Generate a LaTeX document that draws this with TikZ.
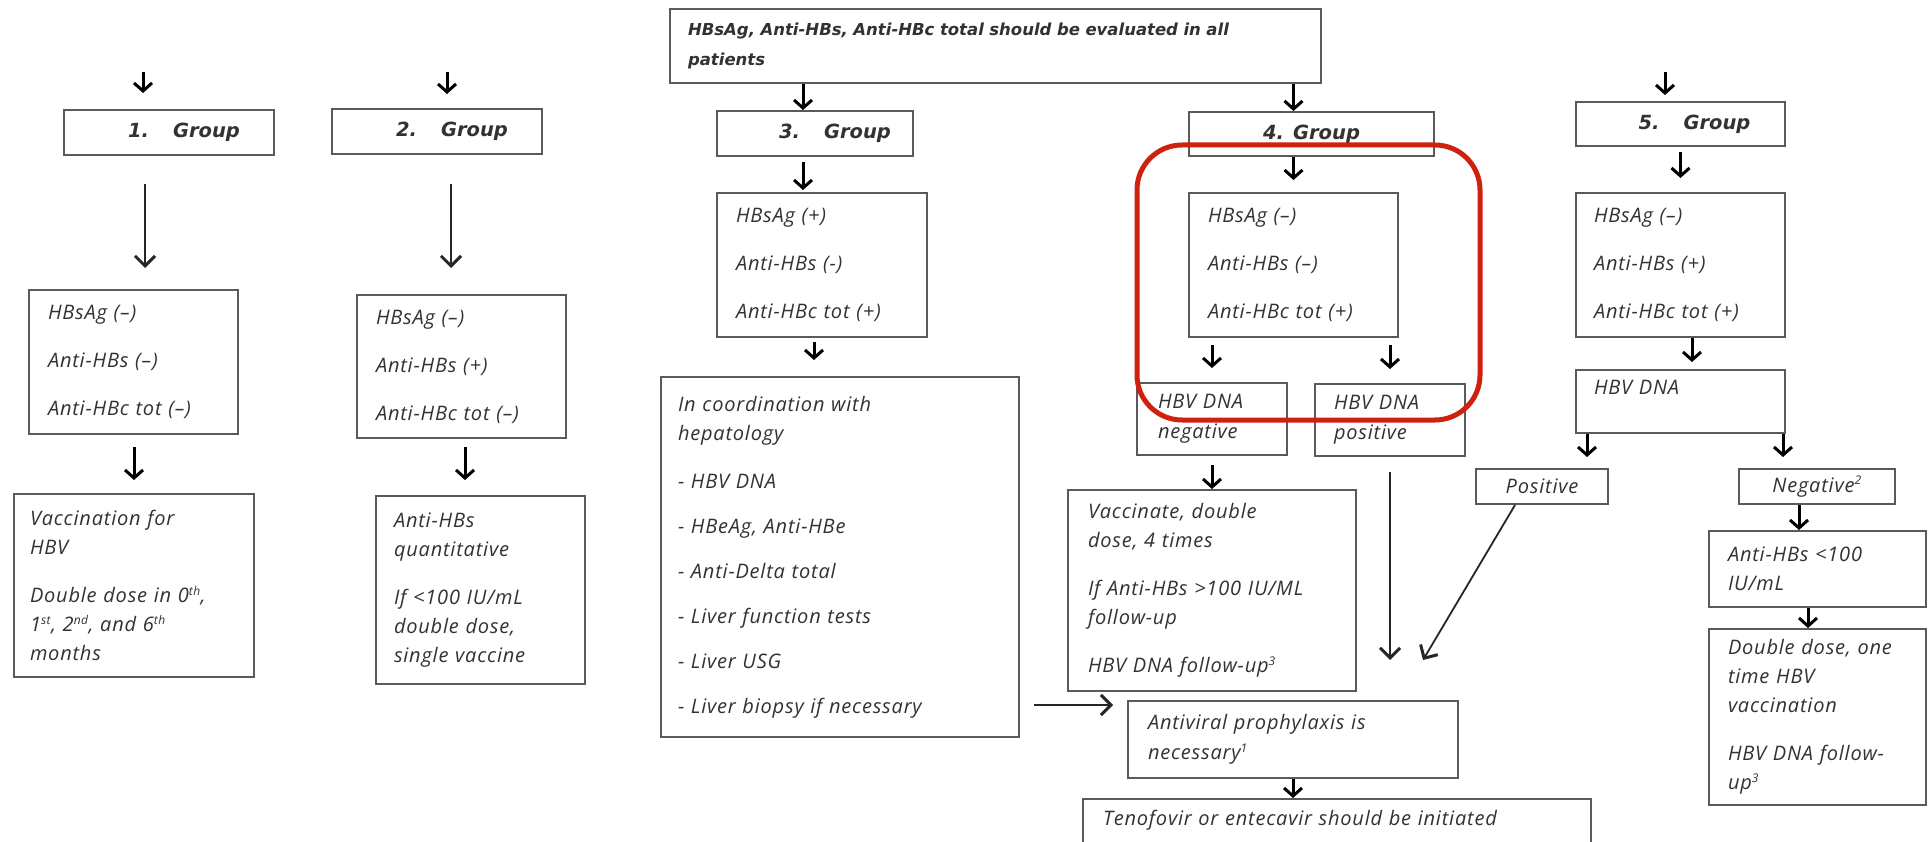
\documentclass[tikz,border=0pt]{standalone}
\usepackage{fontspec}
\setmainfont{Open Sans}
\newfontfamily\bodyfont{Open Sans}[LetterSpace=4]
\newfontfamily\grpfont{DejaVu Sans}
\usetikzlibrary{arrows.meta}
\definecolor{boxgray}{RGB}{90,90,90}
\definecolor{txtgray}{RGB}{50,50,50}
\definecolor{markred}{RGB}{208,32,14}
\newcommand{\supx}[1]{\textsuperscript{\fontsize{12}{12}\selectfont #1}}

\begin{document}
\begin{tikzpicture}
	[x=1pt, y=-1pt,
	box_style/.style={draw=boxgray, line width=2pt, anchor=north west, align=left, inner xsep=19pt, inner ysep=0pt, text=txtgray, font=\bodyfont\itshape\fontsize{20}{29}\selectfont},
	group_style/.style={draw=boxgray, line width=2pt, anchor=north west, inner sep=0pt, text=txtgray, font=\grpfont\bfseries\itshape\fontsize{19.5}{24}\selectfont},
	arrow_style/.style={draw=black, line width=3pt, -{Straight Barb[length=8pt, width=18pt]}},
	long_arrow_style/.style={draw=black!85, line width=1.8pt, -{Straight Barb[length=10pt, width=20pt, line width=3pt]}},
	mark_style/.style={draw=markred, line width=5pt, rounded corners=45pt}]
	\fill[white] (0,0) rectangle (1931,842);
	\useasboundingbox (0,0) rectangle (1931,842);
	\clip (0,0) rectangle (1931,842);

	\node[box_style, inner xsep=18pt, text width=615pt, minimum height=74pt, font=\grpfont\bfseries\itshape\fontsize{16.5}{30}\selectfont] (top) at (669,8) {HBsAg, Anti-HBs, Anti-HBc total should be evaluated in all\\patients};

	\node[group_style, minimum width=210pt, minimum height=45pt] (g1) at (63,109) {\hspace*{30pt}1.\hspace{24pt}Group};
	\node[group_style, minimum width=210pt, minimum height=45pt] (g2) at (331,108) {\hspace*{30pt}2.\hspace{24pt}Group};
	\node[group_style, minimum width=196pt, minimum height=45pt] (g3) at (716,110) {\hspace*{40pt}3.\hspace{24pt}Group};
	\node[group_style, minimum width=245pt, minimum height=44pt] (g4) at (1188,111) {4. Group};
	\node[group_style, minimum width=209pt, minimum height=44pt] (g5) at (1575,101) {\hspace*{28pt}5.\hspace{24pt}Group};

	\node[box_style, text width=171pt, minimum height=144pt] (t1) at (28,289) {HBsAg (\textendash)\\[19pt]Anti-HBs (\textendash)\\[19pt]Anti-HBc tot (\textendash)};
	\node[box_style, inner xsep=16pt, text width=208pt, minimum height=183pt] (v1) at (13,493) {Vaccination for\\HBV\\[19pt]Double dose in 0\supx{th},\\1\supx{st}, 2\supx{nd}, and 6\supx{th}\\months};

	\node[box_style, text width=171pt, minimum height=143pt] (t2) at (356,294) {HBsAg (\textendash)\\[19pt]Anti-HBs (+)\\[19pt]Anti-HBc tot (\textendash)};
	\node[box_style, inner xsep=18pt, text width=173pt, minimum height=188pt] (q2) at (375,495) {Anti-HBs\\quantitative\\[19pt]If <100 IU/mL\\double dose,\\single vaccine};

	\node[box_style, text width=172pt, minimum height=144pt] (t3) at (716,192) {HBsAg (+)\\[19pt]Anti-HBs (-)\\[19pt]Anti-HBc tot (+)};
	\node[box_style, inner xsep=17pt, text width=324pt, minimum height=360pt] (h3) at (660,376) {In coordination with\\hepatology\\[19pt]- HBV DNA\\[16pt]- HBeAg, Anti-HBe\\[16pt]- Anti-Delta total\\[16pt]- Liver function tests\\[16pt]- Liver USG\\[16pt]- Liver biopsy if necessary};

	\node[box_style, text width=171pt, minimum height=144pt] (t4) at (1188,192) {HBsAg (\textendash)\\[19pt]Anti-HBs (\textendash)\\[19pt]Anti-HBc tot (+)};
	\node[box_style, inner xsep=21pt, text width=108pt, minimum height=72pt, font=\bodyfont\itshape\fontsize{20}{30}\selectfont] (dn) at (1136,382) {HBV DNA\\negative};
	\node[box_style, text width=112pt, minimum height=72pt, font=\bodyfont\itshape\fontsize{20}{30}\selectfont] (dp) at (1314,383) {HBV DNA\\positive};
	\node[box_style, inner xsep=20pt, text width=248pt, minimum height=201pt] (vac) at (1067,489) {Vaccinate, double\\dose, 4 times\\[19pt]If Anti-HBs >100 IU/ML\\follow-up\\[19pt]HBV DNA follow-up\supx{3}};
	\node[box_style, inner xsep=20pt, text width=290pt, minimum height=77pt, font=\bodyfont\itshape\fontsize{20}{30}\selectfont] (av) at (1127,700) {Antiviral prophylaxis is\\necessary\supx{1}};
	\node[box_style, inner xsep=20pt, inner ysep=11pt, text width=468pt] (tf) at (1082,798) {Tenofovir or entecavir should be initiated\\[20pt]\strut};

	\node[box_style, inner xsep=18pt, text width=173pt, minimum height=144pt] (t5) at (1575,192) {HBsAg (\textendash)\\[19pt]Anti-HBs (+)\\[19pt]Anti-HBc tot (+)};
	\node[box_style, inner xsep=18pt, text width=173pt, minimum height=63pt] (d5) at (1575,369) {HBV DNA\\\mbox{}};
	\node[box_style, align=center, inner xsep=0pt, text width=132pt, minimum height=35pt] (pos5) at (1475,468) {Positive};
	\node[box_style, align=center, inner xsep=0pt, text width=156pt, minimum height=35pt] (neg5) at (1738,468) {Negative\supx{2}};
	\node[box_style, text width=179pt, minimum height=76pt] (anti) at (1708,530) {Anti-HBs <100\\IU/mL};
	\node[box_style, text width=179pt, minimum height=176pt] (dd) at (1708,628) {Double dose, one\\time HBV\\vaccination\\[19pt]HBV DNA follow-\\up\supx{3}};

	\coordinate (in1) at (143,72);
	\coordinate (in2) at (447,72);
	\coordinate (in5) at (1665,72);
	\coordinate (c1) at (145,0);
	\coordinate (c2) at (451,0);
	\coordinate (c2b) at (465,0);
	\coordinate (c3) at (803,0);
	\coordinate (c3b) at (814,0);
	\coordinate (c5b) at (1692,0);
	\coordinate (c5l) at (1587,0);
	\coordinate (c5r) at (1783,0);
	\coordinate (c5p) at (1515,0);
	\coordinate (c5n) at (1799,0);
	\coordinate (c5m) at (1808,0);
	\coordinate (avin) at (0,705);
	\coordinate (dg) at (1423,660);

	\draw[arrow_style, shorten >=16pt] (in1) -- (in1 |- g1.north);
	\draw[arrow_style, shorten >=14pt] (in2) -- (in2 |- g2.north);
	\draw[arrow_style, shorten >=6pt] (in5) -- (in5 |- g5.north);
	\draw[arrow_style] (c3 |- top.south) -- (c3 |- g3.north);
	\draw[arrow_style] (t4.north |- top.south) -- (t4.north |- g4.north);

	\draw[long_arrow_style, shorten <=28pt, shorten >=21pt] (c1 |- g1.south) -- (c1 |- t1.north);
	\draw[long_arrow_style, shorten <=29pt, shorten >=26pt] (c2 |- g2.south) -- (c2 |- t2.north);
	\draw[arrow_style, shorten <=12pt, shorten >=13pt] (t1.south -| v1.north) -- (v1.north);
	\draw[arrow_style, shorten <=8pt, shorten >=15pt] (c2b |- t2.south) -- (c2b |- q2.north);

	\draw[arrow_style, shorten <=5pt, shorten >=2pt] (c3 |- g3.south) -- (c3 |- t3.north);
	\draw[arrow_style, shorten <=4pt, shorten >=16pt] (c3b |- t3.south) -- (c3b |- h3.north);
	\draw[long_arrow_style, shorten <=14pt, shorten >=14pt] (h3.east |- avin) -- (av.west |- avin);

	\draw[arrow_style, shorten >=12pt] (t4.north |- g4.south) -- (t4.north);
	\draw[arrow_style, shorten <=7pt, shorten >=14pt] (t4.south -| dn.north) -- (dn.north);
	\draw[arrow_style, shorten <=7pt, shorten >=14pt] (t4.south -| dp.north) -- (dp.north);
	\draw[arrow_style, shorten <=9pt] (dn.south) -- (dn.south |- vac.north);
	\draw[long_arrow_style, shorten <=15pt, shorten >=40pt] (dp.south) -- (dp.south |- av.north);
	\draw[long_arrow_style] (c5p |- pos5.south) -- (dg);
	\draw[arrow_style] (av.south) -- (av.south |- tf.north);

	\draw[arrow_style, shorten <=5pt, shorten >=14pt] (g5.south) -- (g5.south |- t5.north);
	\draw[arrow_style, shorten >=7pt] (c5b |- t5.south) -- (c5b |- d5.north);
	\draw[arrow_style, shorten >=11pt] (c5l |- d5.south) -- (c5l |- pos5.north);
	\draw[arrow_style, shorten >=11pt] (c5r |- d5.south) -- (c5r |- neg5.north);
	\draw[arrow_style] (c5n |- neg5.south) -- (c5n |- anti.north);
	\draw[arrow_style] (c5m |- anti.south) -- (c5m |- dd.north);

	\draw[mark_style] (1137,145) rectangle (1480,420);
\end{tikzpicture}
\end{document}
